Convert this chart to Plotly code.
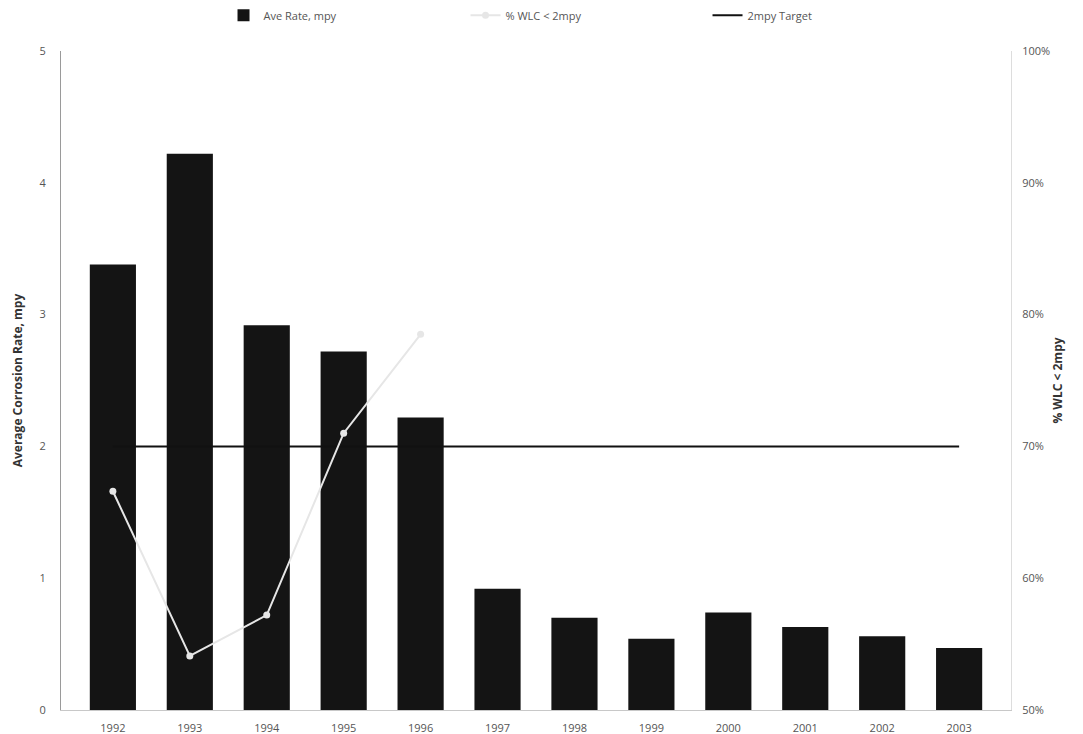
import plotly.graph_objects as go

years = ["1992", "1993", "1994", "1995", "1996", "1997", "1998", "1999", "2000", "2001", "2002", "2003"]
ave_rate = [3.38, 4.22, 2.92, 2.72, 2.22, 0.92, 0.70, 0.54, 0.74, 0.63, 0.56, 0.47]
pct_wlc = [66.6, 54.1, 57.2, 71.0, 78.5, None, None, None, None, None, None, None]
target = [2, 2, 2, 2, 2, 2, 2, 2, 2, 2, 2, 2]
left_ticks = [0, 1, 2, 3, 4, 5]
right_ticks = [50, 60, 70, 80, 90, 100]
right_labels = ["50%", "60%", "70%", "80%", "90%", "100%"]

FONT = "Open Sans"

fig = go.Figure()
fig.add_trace(go.Bar(
    x=years, y=ave_rate, name="Ave Rate, mpy",
    marker=dict(color="#141414", line=dict(width=0)),
    width=0.6, yaxis="y",
))
fig.add_trace(go.Scatter(
    x=years, y=pct_wlc, name="% WLC < 2mpy", mode="lines+markers",
    line=dict(color="#e6e6e6", width=2),
    marker=dict(color="#e6e6e6", size=7),
    yaxis="y2", connectgaps=False,
))
fig.add_trace(go.Scatter(
    x=years, y=target, name="2mpy Target", mode="lines",
    line=dict(color="#111111", width=2),
    yaxis="y",
))

fig.update_layout(
    width=1083, height=734,
    margin=dict(l=53, r=80, t=43, b=32, autoexpand=False),
    paper_bgcolor="white", plot_bgcolor="white",
    font=dict(family=FONT, size=11, color="#555555"),
    showlegend=True,
    legend=dict(
        orientation="h", xref="container", yref="container",
        x=0.199, xanchor="left", y=0.99, yanchor="middle",
        font=dict(family=FONT, size=11, color="#555555"),
        entrywidth=197, entrywidthmode="pixels",
        bgcolor="rgba(0,0,0,0)",
    ),
    xaxis=dict(
        type="category", showline=True, linecolor="#c8c8c8", linewidth=1,
        showgrid=False, ticks="outside", ticklen=8, tickcolor="rgba(0,0,0,0)",
        tickfont=dict(family=FONT, size=11, color="#555555"), automargin=False,
    ),
    yaxis=dict(
        range=[0, 5], tickvals=left_ticks, showgrid=False, zeroline=False,
        showline=True, linecolor="#9a9a9a", linewidth=1, automargin=False,
        ticks="outside", ticklen=12, tickcolor="rgba(0,0,0,0)",
        title=dict(text="<b>Average Corrosion Rate, mpy</b>", font=dict(family=FONT, size=12, color="#333333"), standoff=14),
    ),
    yaxis2=dict(
        range=[50, 100], tickvals=right_ticks, ticktext=right_labels,
        overlaying="y", side="right", showgrid=False, zeroline=False,
        showline=True, linecolor="#dddddd", linewidth=1, automargin=False,
        ticks="outside", ticklen=8, tickcolor="rgba(0,0,0,0)",
        title=dict(text="<b>% WLC < 2mpy</b>", font=dict(family=FONT, size=12, color="#333333"), standoff=4),
    ),
)

fig.write_html("out.html")
